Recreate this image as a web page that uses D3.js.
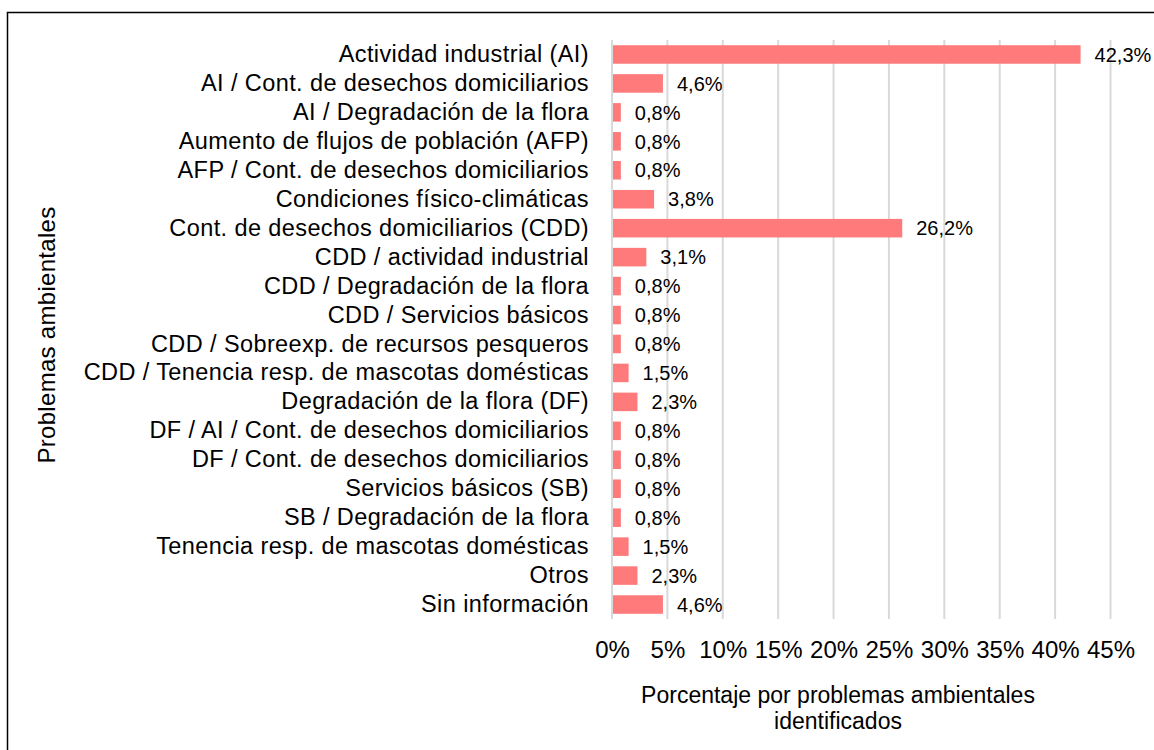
<!DOCTYPE html>
<html><head><meta charset="utf-8">
<script src="https://cdn.jsdelivr.net/npm/d3@7"></script>
<style>body{margin:0;background:#fff;} svg{display:block;font-family:"Liberation Sans",Arial,sans-serif;}</style>
</head><body>
<svg id="c" width="1154" height="750"></svg>
<script>
const categories = [
  "Actividad industrial (AI)",
  "AI / Cont. de desechos domiciliarios",
  "AI / Degradación de la flora",
  "Aumento de flujos de población (AFP)",
  "AFP / Cont. de desechos domiciliarios",
  "Condiciones físico-climáticas",
  "Cont. de desechos domiciliarios (CDD)",
  "CDD / actividad industrial",
  "CDD / Degradación de la flora",
  "CDD / Servicios básicos",
  "CDD / Sobreexp. de recursos pesqueros",
  "CDD / Tenencia resp. de mascotas domésticas",
  "Degradación de la flora (DF)",
  "DF / AI / Cont. de desechos domiciliarios",
  "DF / Cont. de desechos domiciliarios",
  "Servicios básicos (SB)",
  "SB / Degradación de la flora",
  "Tenencia resp. de mascotas domésticas",
  "Otros",
  "Sin información"
];
const values = [42.3, 4.6, 0.8, 0.8, 0.8, 3.8, 26.2, 3.1, 0.8, 0.8, 0.8, 1.5, 2.3, 0.8, 0.8, 0.8, 0.8, 1.5, 2.3, 4.6];
const tickValues = [0, 5, 10, 15, 20, 25, 30, 35, 40, 45];
const xTitle = ["Porcentaje por problemas ambientales", "identificados"];
const yTitle = "Problemas ambientales";

const svg = d3.select("#c");
svg.append("rect").attr("x", 7.5).attr("y", 12.5).attr("width", 1160).attr("height", 760)
  .attr("fill", "#fff").attr("stroke", "#000").attr("stroke-width", 1.5);

const x = d3.scaleLinear().domain([0, 45]).range([612, 1110.5]);
const y = d3.scaleBand().domain(categories).range([40, 619]).paddingInner(0.36).paddingOuter(0.18);

// gridlines
svg.append("g").selectAll("line").data(tickValues).join("line")
  .attr("x1", d => x(d)).attr("x2", d => x(d))
  .attr("y1", 40).attr("y2", 619)
  .attr("stroke", "#d9d9d9").attr("stroke-width", 2);

// bars
svg.append("g").selectAll("rect").data(values).join("rect")
  .attr("x", x(0) + 1).attr("y", (d, i) => y(categories[i]))
  .attr("width", d => x(d) - x(0) - 1).attr("height", y.bandwidth())
  .attr("fill", "#ff7b7b");

// value labels
svg.append("g").selectAll("text").data(values).join("text")
  .attr("x", d => x(d) + 14).attr("y", (d, i) => y(categories[i]) + y.bandwidth() / 2)
  .attr("dy", "0.36em").attr("font-size", 20).attr("fill", "#000")
  .text(d => d.toFixed(1).replace(".", ",") + "%");

// category axis labels
const yAxis = d3.axisLeft(y).tickSize(0).tickPadding(0);
const gy = svg.append("g").attr("transform", "translate(589,0)").call(yAxis);
gy.select(".domain").remove();
gy.selectAll("text").attr("font-size", 23.5).attr("letter-spacing", "0.4px")
  .attr("font-family", "Liberation Sans, Arial, sans-serif").attr("fill", "#000");

// x ticks
const xAxis = d3.axisBottom(x).tickValues(tickValues).tickSize(0).tickPadding(0).tickFormat(d => d + "%");
const gx = svg.append("g").attr("transform", "translate(0,641)").call(xAxis);
gx.select(".domain").remove();
gx.selectAll("text").attr("font-size", 24).attr("font-family", "Liberation Sans, Arial, sans-serif").attr("fill", "#000");

// titles
svg.append("text").attr("x", 838).attr("y", 703).attr("text-anchor", "middle").attr("font-size", 23)
  .text(xTitle[0]);
svg.append("text").attr("x", 838).attr("y", 729).attr("text-anchor", "middle").attr("font-size", 23)
  .text(xTitle[1]);
svg.append("text").attr("transform", "translate(55,335) rotate(-90)").attr("text-anchor", "middle")
  .attr("font-size", 24).attr("letter-spacing", "0.3px").text(yTitle);
</script>
</body></html>
